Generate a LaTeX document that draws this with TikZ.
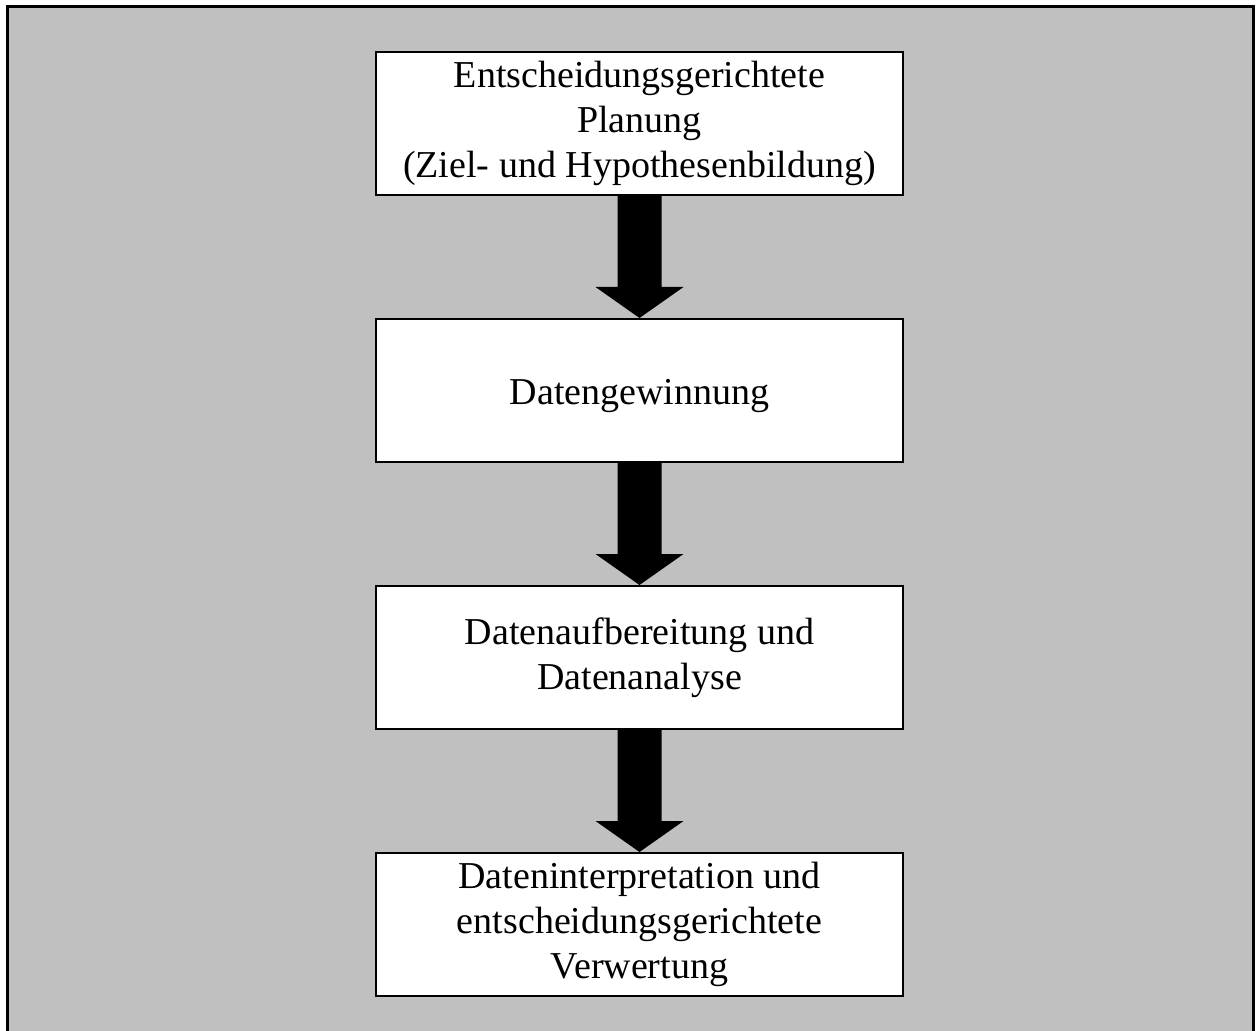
\documentclass[tikz,border=0pt]{standalone}
\usepackage{fontspec}
\setmainfont{Liberation Serif}
\usepackage{tikz}
\usetikzlibrary{positioning,calc}

\definecolor{bggray}{HTML}{C0C0C0}

\begin{document}
\begin{tikzpicture}[x=0.5pt, y=-0.5pt, font=\fontsize{19}{22.5}\selectfont, node distance=61pt,
  box/.style={draw=black, line width=1pt, fill=white, align=center, inner sep=2pt,
    minimum width=263.5pt, minimum height=71.5pt, execute at begin node={\rule{0pt}{18pt}}},
  blockarr/.style={fill=black},
  frame/.style={draw=black, line width=1.5pt, fill=bggray}]
\useasboundingbox (0,0) rectangle (1256,1031);
\clip (0,0) rectangle (1256,1031);
\path[frame] (7,7) rectangle (1253,1050);
\node[box] (plan) at (639.5,123.5) {Entscheidungsgerichtete\\Planung\\(Ziel- und Hypothesenbildung)};
\node[box, below=of plan] (gewinn) {Datengewinnung};
\node[box, below=of gewinn] (aufb) {Datenaufbereitung und\\Datenanalyse};
\node[box, below=of aufb] (interp) {Dateninterpretation und\\entscheidungsgerichtete\\Verwertung};
% block arrows between the steps
\foreach \a/\b in {plan/gewinn, gewinn/aufb, aufb/interp}
  \fill[blockarr] ($(\a.south)+(-22,0)$) -- ($(\b.north)+(-22,-31)$) -- ($(\b.north)+(-44,-31)$)
    -- (\b.north) -- ($(\b.north)+(44,-31)$) -- ($(\b.north)+(22,-31)$) -- ($(\a.south)+(22,0)$) -- cycle;
\end{tikzpicture}
\end{document}
